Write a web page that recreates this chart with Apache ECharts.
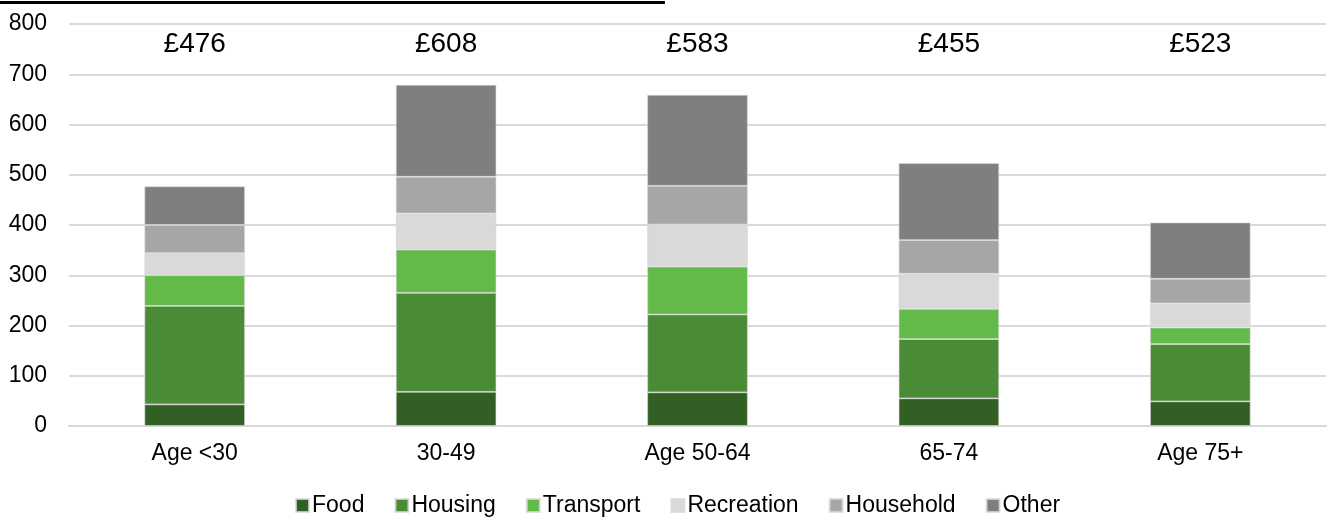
<!DOCTYPE html>
<html>
<head>
<meta charset="utf-8">
<script src="https://cdn.jsdelivr.net/npm/echarts@6/dist/echarts.min.js"></script>
<style>
  html, body { margin: 0; padding: 0; background: #fff; }
  #chart { width: 1330px; height: 517px; }
</style>
</head>
<body>
<div id="chart"></div>
<script>
const categories = ['Age <30', '30-49', 'Age 50-64', '65-74', 'Age 75+']
const totalLabels = ['£476', '£608', '£583', '£455', '£523']
const labelLevel = [760, 760, 760, 760, 760]

const food = [43, 68, 67, 55, 49]
const housing = [196, 197, 155, 118, 114]
const transport = [61, 86, 95, 60, 33]
const recreation = [44, 72, 84, 70, 48]
const household = [56, 73, 77, 67, 49]
const other = [77, 183, 181, 153, 112]

const seriesNames = ['Food', 'Housing', 'Transport', 'Recreation', 'Household', 'Other']
const seriesData = [food, housing, transport, recreation, household, other]
const colors = ['#325f24', '#4a8c35', '#63ba48', '#d9d9d9', '#a6a6a6', '#7f7f7f']

const font = 'Liberation Sans, Arial, sans-serif'

const chart = echarts.init(document.getElementById('chart'))

const barSeries = seriesNames.map((name, i) => ({
  name: name,
  type: 'bar',
  stack: 'total',
  barWidth: '40%',
  data: seriesData[i],
  itemStyle: {
    color: colors[i],
    borderColor: 'rgba(217,217,217,0.8)',
    borderWidth: 0.8
  },
  emphasis: { disabled: true }
}))

const option = {
  animation: false,
  textStyle: { fontFamily: font },
  grid: {
    left: 69,
    right: 4,
    top: 24,
    bottom: 91,
    containLabel: false
  },
  legend: {
    data: seriesNames,
    top: 489,
    left: 290,
    itemWidth: 13,
    itemHeight: 13,
    itemGap: 30,
    icon: 'rect',
    textStyle: { fontSize: 23, color: '#000', fontFamily: font, padding: [0, 0, 0, -2] }
  },
  xAxis: {
    type: 'category',
    data: categories,
    axisTick: { show: false },
    axisLine: { lineStyle: { color: '#d9d9d9', width: 2 } },
    axisLabel: { fontSize: 23, color: '#000', margin: 16, fontFamily: font }
  },
  yAxis: {
    type: 'value',
    min: 0,
    max: 800,
    interval: 100,
    axisLine: { show: false },
    axisTick: { show: false },
    axisLabel: { fontSize: 23, color: '#000', margin: 22, fontFamily: font },
    splitLine: { lineStyle: { color: '#d9d9d9', width: 2 } }
  },
  graphic: [
    {
      type: 'rect',
      left: 0,
      top: 1,
      shape: { width: 665, height: 3 },
      style: { fill: '#000' }
    }
  ],
  series: barSeries.concat([
    {
      name: 'totals',
      type: 'scatter',
      data: labelLevel,
      symbolSize: 1,
      itemStyle: { color: 'rgba(0,0,0,0)', opacity: 1 },
      label: {
        show: true,
        position: 'inside',
        fontSize: 28,
        color: '#000',
        opacity: 1,
        fontFamily: font,
        formatter: p => totalLabels[p.dataIndex]
      },
      silent: true
    }
  ])
}

chart.setOption(option)
</script>
</body>
</html>
